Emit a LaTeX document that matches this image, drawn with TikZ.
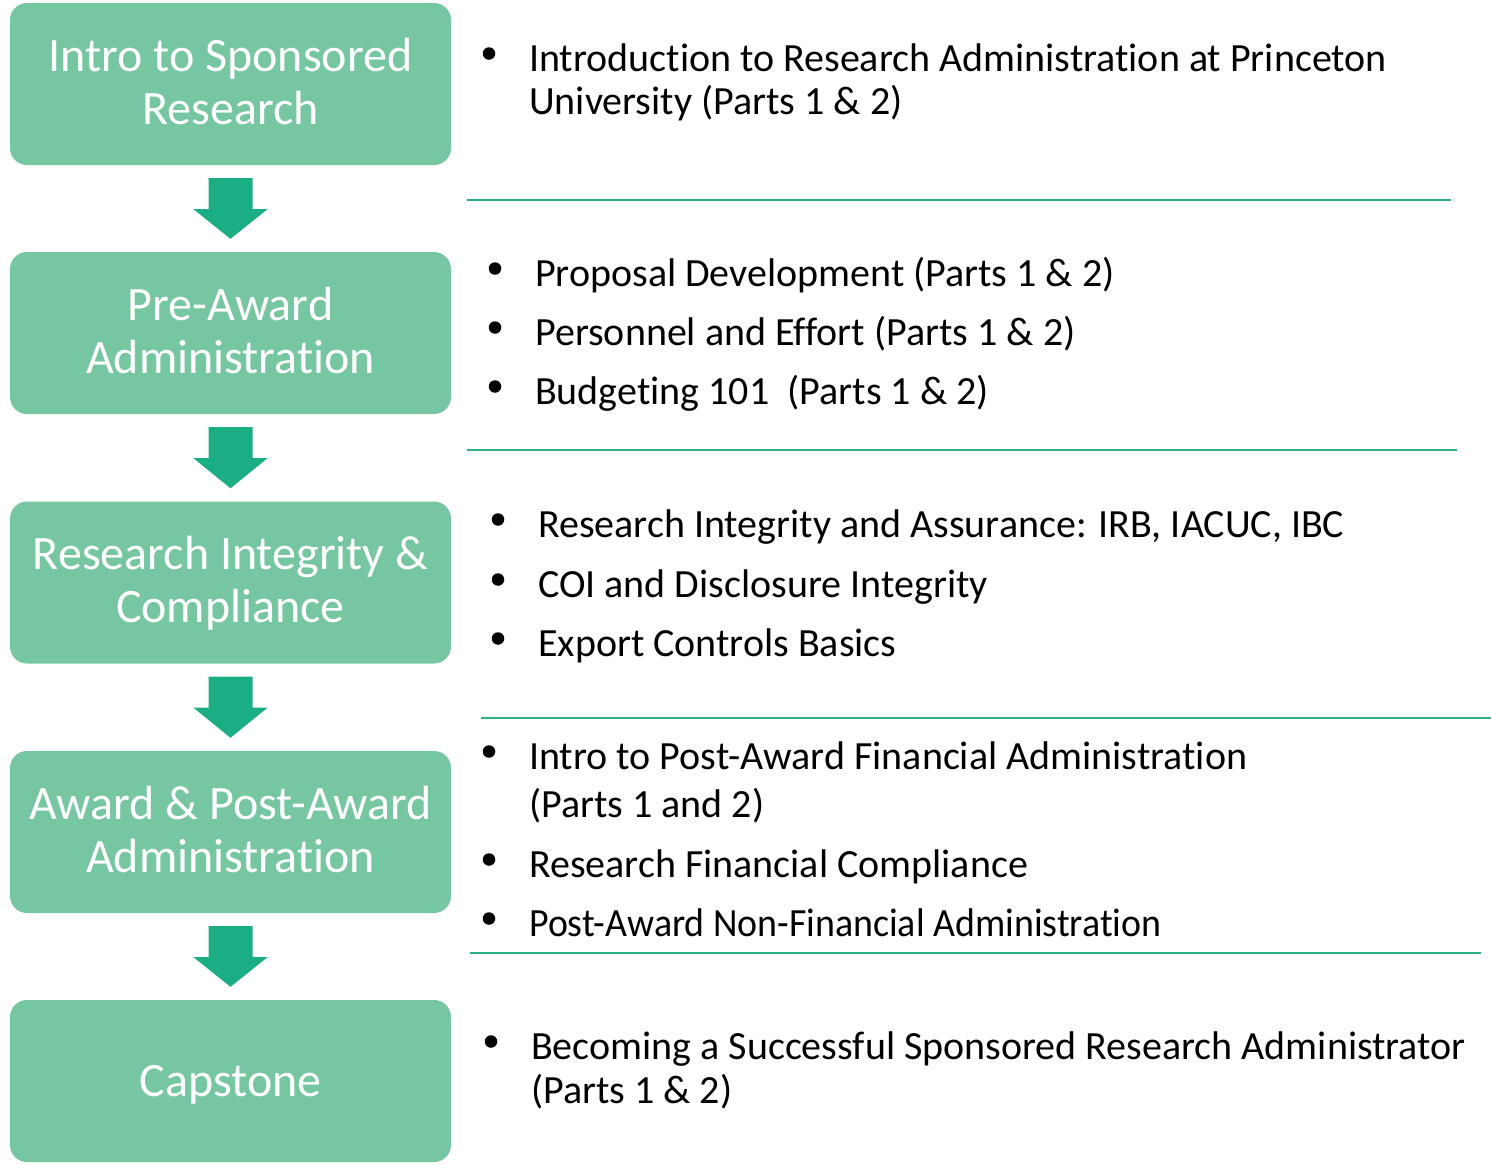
\documentclass[tikz,border=0pt]{standalone}
\usepackage{fontspec}
\setmainfont[Ligatures=NoCommon]{Carlito}
\newfontfamily\narrowfont[FakeStretch=0.947,Ligatures=NoCommon]{Carlito}
\usetikzlibrary{calc}
\definecolor{boxgreen}{HTML}{75C6A1}
\definecolor{arrgreen}{HTML}{1BAD83}
\definecolor{linegreen}{HTML}{2BB088}
\tikzset{
  stage/.style={rectangle, rounded corners=17pt, fill=boxgreen,
    minimum width=441pt, minimum height=162pt, inner sep=0pt},
  stagetext/.style={anchor=base, inner sep=0pt, text=white,
    font=\fontsize{48}{53}\selectfont},
  item/.style={anchor=base west, inner sep=0pt, text=black,
    font=\fontsize{40}{48}\selectfont},
  bul/.style={circle, fill=black, inner sep=0pt, minimum size=12.5pt},
  sep/.style={draw=linegreen, line width=2.8pt},
  blockarrow/.style={fill=arrgreen, draw=none}
}
\newcommand{\downarrowblock}[2]{%
  \fill[blockarrow] ($(#1.south)+(-22,13)$) -- ($(#1.south)+(22,13)$) -- ($(#1.south)+(22,44)$)
    -- ($(#1.south)+(37,44)$) -- ($(#2.north)+(0,-13)$) -- ($(#1.south)+(-37,44)$)
    -- ($(#1.south)+(-22,44)$) -- cycle;}
\newcommand{\bulletitem}[4]{% name, x, baseline, text
  \node[bul] (#1d) at ({#2-40},{#3-17.5}) {};
  \node[item] (#1) at (#2,#3) {#4};}
\begin{document}
\begin{tikzpicture}[x=1pt,y=-1pt]
\useasboundingbox (0,0) rectangle (1491,1163);
% stage boxes
\node[stage] (b1) at (230.5,84) {};
\node[stage] (b2) at (230.5,333) {};
\node[stage] (b3) at (230.5,582.5) {};
\node[stage] (b4) at (230.5,832) {};
\node[stage] (b5) at (230.5,1081) {};
\node[stagetext] (b1a) at (230.5,71) {Intro to Sponsored};
\node[stagetext] (b1b) at (230.5,124) {Research};
\node[stagetext] (b2a) at (230.5,320) {Pre-Award};
\node[stagetext] (b2b) at (230.5,373) {Administration};
\node[stagetext] (b3a) at (230.5,569.5) {Research Integrity \&};
\node[stagetext] (b3b) at (230.5,622.5) {Compliance};
\node[stagetext] (b4a) at (230.5,819) {Award \& Post-Award};
\node[stagetext] (b4b) at (230.5,872) {Administration};
\node[stagetext] (b5a) at (230.5,1096) {Capstone};
% arrows
\downarrowblock{b1}{b2}
\downarrowblock{b2}{b3}
\downarrowblock{b3}{b4}
\downarrowblock{b4}{b5}
% separator lines
\coordinate (l1a) at (467,200); \coordinate (l1b) at (1451,200);
\coordinate (l2a) at (467,450); \coordinate (l2b) at (1457,450);
\coordinate (l3a) at (481,718); \coordinate (l3b) at (1491,718);
\coordinate (l4a) at (470,953); \coordinate (l4b) at (1481,953);
\draw[sep] (l1a) -- (l1b);
\draw[sep] (l2a) -- (l2b);
\draw[sep] (l3a) -- (l3b);
\draw[sep] (l4a) -- (l4b);
% group 1
\bulletitem{t11}{529}{71}{Introduction to Research Administration at Princeton}
\node[item] (t12) at (529,114) {University (Parts 1 \& 2)};
% group 2
\bulletitem{t21}{535}{286}{Proposal Development (Parts 1 \& 2)}
\bulletitem{t22}{535}{345}{Personnel and Effort (Parts 1 \& 2)}
\bulletitem{t23}{535}{404}{Budgeting 101~~(Parts 1 \& 2)}
% group 3
\bulletitem{t31}{538}{537}{Research Integrity and Assurance: IRB, IACUC, IBC}
\bulletitem{t32}{538}{597}{COI and Disclosure Integrity}
\bulletitem{t33}{538}{656}{Export Controls Basics}
% group 4
\bulletitem{t41}{529}{769}{Intro to Post-Award Financial Administration}
\node[item] (t42) at (529,817) {(Parts 1 and 2)};
\bulletitem{t43}{529}{877}{Research Financial Compliance}
\bulletitem{t44}{529}{936}{\narrowfont Post-Award Non-Financial Administration}
% group 5
\bulletitem{t51}{531}{1059}{Becoming a Successful Sponsored Research Administrator}
\node[item] (t52) at (531,1103) {(Parts 1 \& 2)};
\end{tikzpicture}
\end{document}
